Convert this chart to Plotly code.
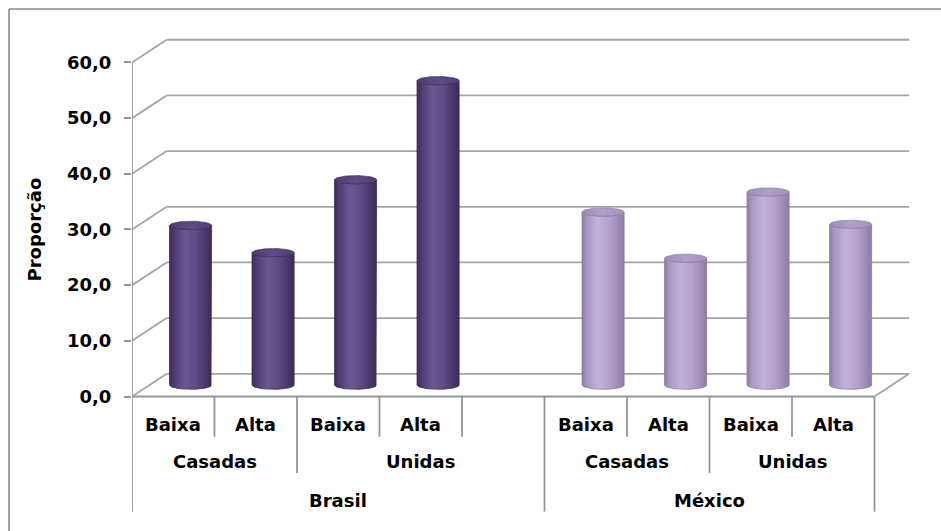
import numpy as np
import plotly.graph_objects as go

# ---------------- data ----------------
level_labels = ["Baixa", "Alta", "Baixa", "Alta", "", "Baixa", "Alta", "Baixa", "Alta"]
union_labels = ["Casadas", "Casadas", "Unidas", "Unidas", "Unidas",
                "Casadas", "Casadas", "Unidas", "Unidas"]
country_labels = ["Brasil", "Brasil", "Brasil", "Brasil", "Brasil",
                  "México", "México", "México", "México"]
values = [28.7, 23.8, 36.9, 54.7, None, 31.1, 22.8, 34.7, 28.9]
y_ticks = [0, 10, 20, 30, 40, 50, 60]
y_title = "Proporção"

# ---------------- style ----------------
FONT = "DejaVu Sans"
FS = 18
GRID = "#A4A4A4"
AX = "#969696"
N = len(values)
SLOT_PX = 82.5
UNIT_PX = 5.567
PLOT_L = 132
W, H = 941, 531
ZERO_PX = 396.5
DX = 0.42          # depth offset (slots)
DY = 4.08          # depth offset (value units)
R = 0.255          # cylinder radius (slots)
EY = 0.75          # ellipse half height (value units)

x_range = [0, (W - PLOT_L) / SLOT_PX]
y_range = [-(H - ZERO_PX) / UNIT_PX, ZERO_PX / UNIT_PX]

body_scales = {
    "Brasil": [[0, "#3C2D5C"], [0.12, "#4E3D72"], [0.38, "#6B5893"], [0.65, "#5C4A84"], [1, "#3A2B57"]],
    "México": [[0, "#8C7CA6"], [0.12, "#A898C2"], [0.38, "#C2B3DA"], [0.65, "#B2A2CC"], [1, "#8D7DA7"]],
}
top_scales = {
    "Brasil": [[0, "#4C3C6E"], [0.5, "#5E4C84"], [1, "#4E3E70"]],
    "México": [[0, "#9E8EB8"], [0.5, "#B0A0C8"], [1, "#A292BC"]],
}
edge_col = {"Brasil": "#3A2C55", "México": "#8A7AA2"}


def spans(labels):
    out = []
    start = 0
    for i in range(1, len(labels) + 1):
        if i == len(labels) or labels[i] != labels[start] or (
                labels is union_labels and country_labels[i] != country_labels[start]):
            out.append((labels[start], start, i))
            start = i
    return out


fig = go.Figure()
shapes = []
annotations = []


def line(x0, y0, x1, y1, color=GRID, width=1.8, ref="data"):
    d = dict(type="line", x0=x0, y0=y0, x1=x1, y1=y1,
             line=dict(color=color, width=width), layer="below")
    if ref == "paper":
        d.update(xref="paper", yref="paper")
    else:
        d.update(xref="x", yref="y")
    shapes.append(d)


# walls: gridlines on back wall + left side wall diagonals
for v in y_ticks:
    line(DX, v + DY, N + DX, v + DY)
    line(0, v, DX, v + DY)
# floor
line(0, 0, N, 0, color=AX)
line(N, 0, N + DX, DY)
# front value axis
line(0, 0, 0, y_ticks[-1], color=AX)

# category dividers under the axis
lvl_bottom = -(436.7 - ZERO_PX) / UNIT_PX
uni_bottom = -(473.0 - ZERO_PX) / UNIT_PX
cty_bottom = -(511.7 - ZERO_PX) / UNIT_PX
country_edges = set()
for _, a, b in spans(country_labels):
    country_edges.update([a, b])
union_edges = set()
for _, a, b in spans(union_labels):
    union_edges.update([a, b])
for k in range(N + 1):
    if k in country_edges:
        yb = cty_bottom
    elif k in union_edges:
        yb = uni_bottom
    else:
        yb = lvl_bottom
    line(k, 0, k, yb, color=AX)

# labels
lab_font = dict(family=FONT, size=FS, color="black", weight="bold")
lvl_y = -(424.0 - ZERO_PX) / UNIT_PX
uni_y = -(461.7 - ZERO_PX) / UNIT_PX
cty_y = -(500.0 - ZERO_PX) / UNIT_PX
for i, lab in enumerate(level_labels):
    if lab:
        annotations.append(dict(x=i + 0.5, y=lvl_y, text=lab, showarrow=False,
                                xref="x", yref="y", font=lab_font))
for lab, a, b in spans(union_labels):
    annotations.append(dict(x=(a + b) / 2, y=uni_y, text=lab, showarrow=False,
                            xref="x", yref="y", font=lab_font))
for lab, a, b in spans(country_labels):
    annotations.append(dict(x=(a + b) / 2, y=cty_y, text=lab, showarrow=False,
                            xref="x", yref="y", font=lab_font))

# y title
annotations.append(dict(x=(34 - PLOT_L) / (W - PLOT_L), xref="paper", y=y_ticks[-1] / 2, yref="y",
                        xanchor="center", yanchor="middle",
                        text=y_title, textangle=-90, showarrow=False, font=lab_font))

# outer border (cropped frame)
bx = (9 - PLOT_L) / (W - PLOT_L)
by = 1 - 9 / H
line(bx, by, 1.2, by, color="#8A8A8A", width=1.6, ref="paper")
line(bx, by, bx, -0.2, color="#8A8A8A", width=1.6, ref="paper")

# cylinders
t = np.linspace(0, np.pi, 41)
s = np.linspace(0, 2 * np.pi, 81)
for i, v in enumerate(values):
    if v is None:
        continue
    c = country_labels[i]
    xc = i + 0.5 + DX / 2
    base = DY / 2
    top = v + DY / 2
    xs = np.concatenate([[xc - R, xc - R], xc - R * np.cos(t), [xc + R, xc + R], xc + R * np.cos(t)])
    ys = np.concatenate([[base, top], top - EY * np.sin(t), [top, base], base - EY * np.sin(t)])
    fig.add_trace(go.Scatter(
        x=xs, y=ys, mode="lines", fill="toself",
        line=dict(color=edge_col[c], width=0.8),
        fillgradient=dict(type="horizontal", colorscale=body_scales[c], start=xc - R, stop=xc + R),
        hoverinfo="skip", showlegend=False))
    fig.add_trace(go.Scatter(
        x=xc + R * np.cos(s), y=top + EY * np.sin(s), mode="lines", fill="toself",
        line=dict(color=edge_col[c], width=0.6),
        fillgradient=dict(type="horizontal", colorscale=top_scales[c], start=xc - R, stop=xc + R),
        hoverinfo="skip", showlegend=False))

fig.update_layout(
    width=W, height=H,
    margin=dict(l=PLOT_L, r=0, t=0, b=0),
    paper_bgcolor="white", plot_bgcolor="white",
    shapes=shapes, annotations=annotations,
    showlegend=False,
    xaxis=dict(range=x_range, visible=False, fixedrange=True, automargin=False),
    yaxis=dict(range=y_range, showgrid=False, zeroline=False, showline=False,
               tickvals=y_ticks, ticktext=[f"{v:.1f}".replace(".", ",") for v in y_ticks],
               ticks="outside", ticklen=7, tickwidth=1.6, tickcolor=AX,
               ticklabelstandoff=9,
               tickfont=lab_font,
               automargin=False, fixedrange=True),
)

fig.write_html("out.html")
